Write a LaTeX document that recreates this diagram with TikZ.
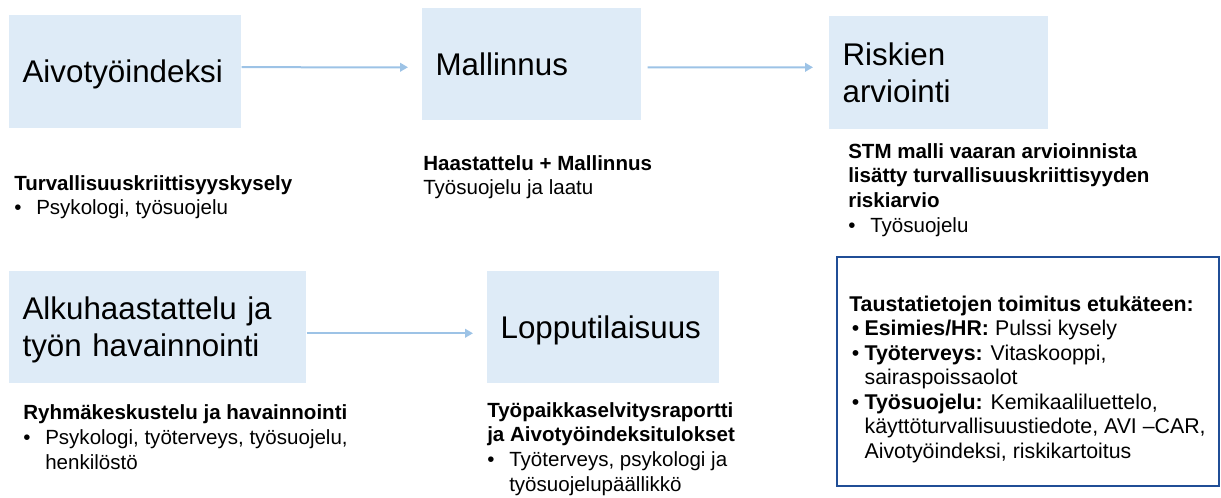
\documentclass[tikz,border=0pt]{standalone}
\usepackage{fontspec}
\setmainfont{Liberation Sans}
\usepackage{tikz}
\usetikzlibrary{arrows.meta}

\definecolor{boxblue}{RGB}{222,235,247}
\definecolor{arrowblue}{RGB}{157,195,230}
\definecolor{frameblue}{RGB}{32,78,150}

\newcommand{\bul}[1][16.5pt]{\makebox[#1][l]{\textbullet}}
\newcommand{\ind}[1][16.5pt]{\hspace*{#1}}

\tikzset{
  stage/.style={fill=boxblue, anchor=north west, inner xsep=10pt, inner ysep=0pt, align=left, text height=16.5pt, text depth=0pt, font=\fontsize{23.5}{28}\selectfont},
  note/.style={anchor=base west, inner sep=0pt, align=left, font=\fontsize{15.4}{18.5}\selectfont},
  flow/.style={draw=arrowblue, line width=1.5pt, -{Triangle[length=6pt, width=6.5pt]}}
}

\begin{document}
\begin{tikzpicture}[x=0.75pt, y=-0.75pt]
\useasboundingbox (0, 0) rectangle (1221, 497);
\draw (9, 15) node (aivo) [stage, text width=154pt, minimum height=84.75pt] {Aivotyöindeksi};
\draw (422, 8) node (malli) [stage, text width=144.25pt, minimum height=84pt] {Mallinnus};
\draw (829, 16) node (riski) [stage, text width=144.25pt, minimum height=84.75pt, text depth=28pt] {Riskien\\ arviointi};
\draw (9, 271) node (alku) [stage, text width=202.75pt, minimum height=84pt, text depth=28pt] {Alkuhaastattelu ja\\ työn havainnointi};
\draw (487, 271) node (loppu) [stage, text width=154pt, minimum height=84pt] {Lopputilaisuus};
\draw [flow] ([yshift=3.4pt]aivo.east) -- ([xshift=-10.5pt, yshift=-2.25pt]malli.west);
\draw [flow] ([xshift=4.5pt, yshift=-2.25pt]malli.east) -- ([xshift=-12pt, yshift=4.1pt]riski.west);
\draw [flow] ([yshift=-4.5pt]alku.east) -- ([xshift=-10.5pt, yshift=-4.5pt]loppu.west);
\draw (14, 214.7) node (kysely) [note] {\textbf{Turvallisuuskriittisyyskysely}\\ \bul Psykologi, työsuojelu};
\draw (423, 194.7) node (haast) [note] {\textbf{Haastattelu + Mallinnus}\\ Työsuojelu ja laatu};
\draw (848, 232) node (stm) [note] {\textbf{STM malli vaaran arvioinnista}\\ \textbf{lisätty turvallisuuskriittisyyden}\\ \textbf{riskiarvio}\\ \bul Työsuojelu};
\draw (23, 469.3) node (ryhma) [note] {\textbf{Ryhmäkeskustelu ja havainnointi}\\ \bul Psykologi, työterveys, työsuojelu,\\ \ind henkilöstö};
\draw (487, 491) node (raportti) [note] {\textbf{Työpaikkaselvitysraportti}\\ \textbf{ja Aivotyöindeksitulokset}\\ \bul Työterveys, psykologi ja\\ \ind työsuojelupäällikkö};
\draw (836, 256) node (tausta) [draw=frameblue, line width=1.5pt, anchor=north west, minimum width=286.5pt, minimum height=171.75pt] {};
\draw (849, 458.2) node (toimitus) [note, font=\fontsize{16}{18.4}\selectfont] {\textbf{Taustatietojen toimitus etukäteen:}\\
  \ind[2pt]\bul[9.5pt]\textbf{Esimies/HR:} Pulssi kysely\\
  \ind[2pt]\bul[9.5pt]\textbf{Työterveys:} Vitaskooppi,\\
  \ind[11.5pt]sairaspoissaolot\\
  \ind[2pt]\bul[9.5pt]\textbf{Työsuojelu:} Kemikaaliluettelo,\\
  \ind[11.5pt]käyttöturvallisuustiedote, AVI –CAR,\\
  \ind[11.5pt]Aivotyöindeksi, riskikartoitus};
\end{tikzpicture}
\end{document}
